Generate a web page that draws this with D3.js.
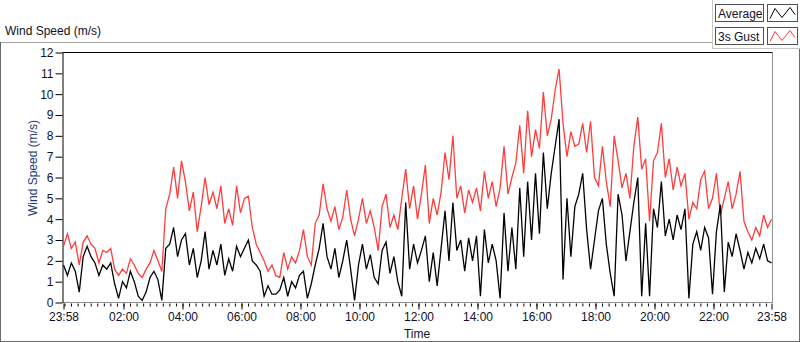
<!DOCTYPE html>
<html>
<head>
<meta charset="utf-8">
<script src="https://cdn.jsdelivr.net/npm/d3@7"></script>
<style>
  body { margin: 0; background: #fff; }
  svg text { font-family: "Liberation Sans", Arial, sans-serif; font-size: 12px; fill: #101028; }
</style>
</head>
<body>
<svg id="chart"></svg>
<script>
// samples every 8 minutes starting 23:58
const stepMinutes = 8;
const gust = [
  2.7, 3.3, 2.6, 2.9, 1.8, 2.9, 3.2, 2.8, 2.6, 1.9,
  2.5, 2.4, 2.6, 1.6, 1.3, 1.6, 1.4, 2.1, 1.8, 1.4,
  1.2, 1.6, 1.9, 2.5, 2.0, 1.5, 4.5, 5.2, 6.5, 5.0,
  6.8, 5.8, 4.4, 5.3, 3.4, 4.6, 6.0, 4.7, 5.3, 4.5,
  5.6, 3.8, 4.5, 3.7, 5.6, 4.3, 5.0, 5.1, 3.6, 2.8,
  2.4, 2.0, 1.5, 1.8, 1.3, 1.2, 2.4, 1.6, 2.2, 1.9,
  2.5, 3.5, 2.2, 1.8, 3.8, 4.2, 5.7, 4.5, 3.9, 4.6,
  3.5, 4.1, 5.4, 4.0, 3.2, 4.0, 5.0, 3.8, 4.4, 3.6,
  2.5, 4.6, 5.2, 3.6, 4.2, 3.5, 5.0, 6.4, 4.5, 5.6,
  4.0, 5.2, 6.6, 3.8, 5.0, 4.2, 5.3, 7.2, 5.9, 8.0,
  5.0, 5.6, 4.3, 5.4, 4.8, 5.5, 4.4, 6.3, 5.0, 5.8,
  4.6, 5.5, 7.5, 5.2, 6.0, 6.7, 8.5, 6.2, 9.2, 7.0,
  8.3, 7.4, 10.1, 8.0, 8.8, 10.2, 11.2, 8.6, 7.0, 8.2,
  7.5, 7.6, 8.6, 7.2, 8.7, 6.0, 5.6, 7.5, 5.8, 4.6,
  8.0, 6.8, 5.5, 6.2, 5.0, 7.5, 8.9, 6.4, 6.9, 3.9,
  6.8, 7.2, 8.6, 6.0, 6.9, 5.4, 6.5, 5.6, 6.2, 4.0,
  4.8, 4.5, 5.9, 6.3, 4.5, 5.0, 6.2, 4.2, 5.0, 5.8,
  4.5, 5.2, 6.3, 3.9, 3.4, 3.0, 3.6, 3.2, 4.2, 3.6, 4.0
];
const average = [
  1.8, 1.3, 1.9, 1.5, 0.5, 2.2, 2.7, 2.2, 1.9, 1.3,
  1.8, 1.6, 1.9, 0.9, 0.2, 1.0, 0.7, 1.5, 1.0, 0.3,
  0.1, 0.5, 1.2, 1.5, 1.1, 0.1, 2.6, 2.8, 3.6, 2.2,
  3.0, 3.3, 1.8, 2.6, 1.2, 2.0, 3.4, 1.6, 2.5, 1.8,
  2.8, 1.3, 2.1, 1.5, 2.7, 2.2, 2.6, 3.0, 2.0, 1.8,
  1.5, 0.3, 0.8, 0.4, 0.4, 0.6, 1.2, 0.3, 1.0, 0.7,
  1.3, 1.5, 0.2, 0.9, 1.8, 2.6, 3.8, 2.2, 1.6, 2.6,
  1.2, 2.0, 3.0, 1.6, 0.1, 1.8, 2.8, 1.6, 2.3, 1.2,
  0.9, 2.5, 2.9, 1.4, 2.2, 1.0, 0.3, 4.8, 1.6, 2.8,
  1.9, 2.5, 3.2, 1.0, 2.4, 0.8, 2.6, 4.4, 2.0, 4.8,
  2.5, 3.0, 1.5, 3.1, 2.0, 3.2, 0.3, 3.5, 1.9, 2.8,
  2.0, 0.2, 4.3, 1.5, 3.6, 1.6, 5.5, 2.2, 5.8, 3.0,
  6.2, 3.3, 7.2, 4.5, 6.2, 7.5, 8.8, 1.1, 5.0, 2.2,
  4.6, 5.2, 6.2, 3.5, 1.6, 3.0, 4.4, 5.0, 2.8, 1.4,
  0.3, 5.2, 4.2, 2.0, 3.4, 4.8, 6.0, 0.3, 3.8, 0.3,
  4.5, 3.6, 5.8, 3.2, 4.0, 3.0, 4.2, 3.5, 4.5, 0.2,
  2.8, 3.4, 2.5, 3.6, 3.1, 0.4, 3.4, 4.7, 0.5, 2.9,
  2.2, 3.3, 2.5, 1.6, 2.4, 1.9, 2.6, 2.1, 2.8, 2.0, 1.9
];
const yTicks = [0, 1, 2, 3, 4, 5, 6, 7, 8, 9, 10, 11, 12];
const majorHours = [2, 4, 6, 8, 10, 12, 14, 16, 18, 20, 22];
const legendLabels = ["Average", "3s Gust"];
const seriesColors = ["#000000", "#ff3c3c"];

const width = 800, height = 342;
const plot = { left: 62.5, right: 772.5, top: 52.5, bottom: 302.5 };

const svg = d3.select("#chart").attr("width", width).attr("height", height);

const start = new Date(2000, 0, 1, 23, 58);
const end = new Date(2000, 0, 2, 23, 58);
const midnight = new Date(2000, 0, 2, 0, 0);

const x = d3.scaleTime().domain([start, end]).range([63.5, 771.5]);
const y = d3.scaleLinear().domain([0, 12]).range([plot.bottom, plot.top]);

// outer panel frame
svg.append("line").attr("x1", 0).attr("x2", 712).attr("y1", 42.5).attr("y2", 42.5).attr("stroke", "#a0a0a0");
svg.append("line").attr("x1", 0.5).attr("x2", 0.5).attr("y1", 42).attr("y2", 342).attr("stroke", "#6a6a6a");
svg.append("line").attr("x1", 0).attr("x2", 800).attr("y1", 341.5).attr("y2", 341.5).attr("stroke", "#6a6a6a");
svg.append("line").attr("x1", 799.5).attr("x2", 799.5).attr("y1", 48).attr("y2", 342).attr("stroke", "#6a6a6a");
svg.append("line").attr("x1", 712.5).attr("x2", 712.5).attr("y1", 0).attr("y2", 49).attr("stroke", "#c8c8c8");
svg.append("line").attr("x1", 712).attr("x2", 800).attr("y1", 48.5).attr("y2", 48.5).attr("stroke", "#c8c8c8");

svg.append("text").attr("x", 5).attr("y", 35).text("Wind Speed (m/s)");

// plot area borders
svg.append("line").attr("x1", plot.right).attr("x2", plot.right).attr("y1", plot.top).attr("y2", plot.bottom).attr("stroke", "#909090");
svg.append("line").attr("x1", plot.left).attr("x2", plot.right).attr("y1", plot.bottom).attr("y2", plot.bottom).attr("stroke", "#909090");
svg.append("line").attr("x1", plot.left).attr("x2", plot.right).attr("y1", plot.top).attr("y2", plot.top).attr("stroke", "#000");

// y axis
const yAxis = svg.append("g")
  .attr("transform", `translate(${plot.left},0)`)
  .call(d3.axisLeft(y).tickValues(yTicks).tickSize(7).tickSizeOuter(0).tickPadding(2));
yAxis.select(".domain").attr("stroke", "#000");
yAxis.selectAll(".tick line").attr("stroke", "#000");
yAxis.selectAll("text").style("font-size", "12px").attr("fill", "#101028");

svg.append("text")
  .attr("transform", "translate(37,168) rotate(-90)")
  .attr("text-anchor", "middle")
  .style("fill", "#1e3a78")
  .text("Wind Speed (m/s)");

// x axis: minor ticks every 2h/9 from midnight
const minorTicks = d3.range(0, 1438, 120 / 9).map(m => new Date(midnight.getTime() + m * 60000));
svg.append("g")
  .attr("transform", `translate(0,${plot.bottom + 1})`)
  .call(d3.axisBottom(x).tickValues(minorTicks).tickSize(3).tickFormat(""))
  .call(g => g.select(".domain").remove())
  .call(g => g.selectAll(".tick line").attr("stroke", "#000"));

const majorTicks = [start, ...majorHours.map(h => new Date(2000, 0, 2, h, 0)), end];
const xAxis = svg.append("g")
  .attr("transform", `translate(0,${plot.bottom + 1})`)
  .call(d3.axisBottom(x).tickValues(majorTicks).tickSize(6).tickPadding(3).tickFormat(d3.timeFormat("%H:%M")));
xAxis.select(".domain").remove();
xAxis.selectAll(".tick line").attr("stroke", "#000");
xAxis.selectAll("text").style("font-size", "12px").attr("fill", "#101028");

svg.append("text").attr("x", 417).attr("y", 338).attr("text-anchor", "middle").text("Time");

// series
svg.append("clipPath").attr("id", "clip")
  .append("rect").attr("x", plot.left + 0.5).attr("y", plot.top + 0.5)
  .attr("width", plot.right - plot.left - 1).attr("height", plot.bottom - plot.top - 0.5);

const tOf = i => new Date(start.getTime() + i * stepMinutes * 60000);
const line = d3.line().x((d, i) => x(tOf(i))).y(d => y(d));

const g = svg.append("g").attr("clip-path", "url(#clip)");
[gust, average].forEach((series, k) => {
  g.append("path")
    .datum(series)
    .attr("fill", "none")
    .attr("stroke", k === 0 ? seriesColors[1] : seriesColors[0])
    .attr("stroke-width", 1.3)
    .attr("stroke-linejoin", "miter")
    .attr("d", line);
});

// legend
const legend = svg.append("g");
legendLabels.forEach((lab, k) => {
  const top = k === 0 ? 4.5 : 27.5;
  legend.append("rect").attr("x", 715.5).attr("y", top).attr("width", 48).attr("height", 17)
    .attr("fill", "#fff").attr("stroke", "#505050");
  legend.append("text").attr("x", 718).attr("y", top + 13).text(lab);
  legend.append("rect").attr("x", 767.5).attr("y", top).attr("width", 30).attr("height", 17)
    .attr("fill", "#fff").attr("stroke", "#505050");
  const pts = [[770, 14], [775, 4], [782, 13], [790, 3], [795, 10]]
    .map(p => [p[0], p[1] + top]);
  legend.append("path").attr("d", d3.line()(pts)).attr("fill", "none")
    .attr("stroke", seriesColors[k]).attr("stroke-width", 1);
});
</script>
</body>
</html>
